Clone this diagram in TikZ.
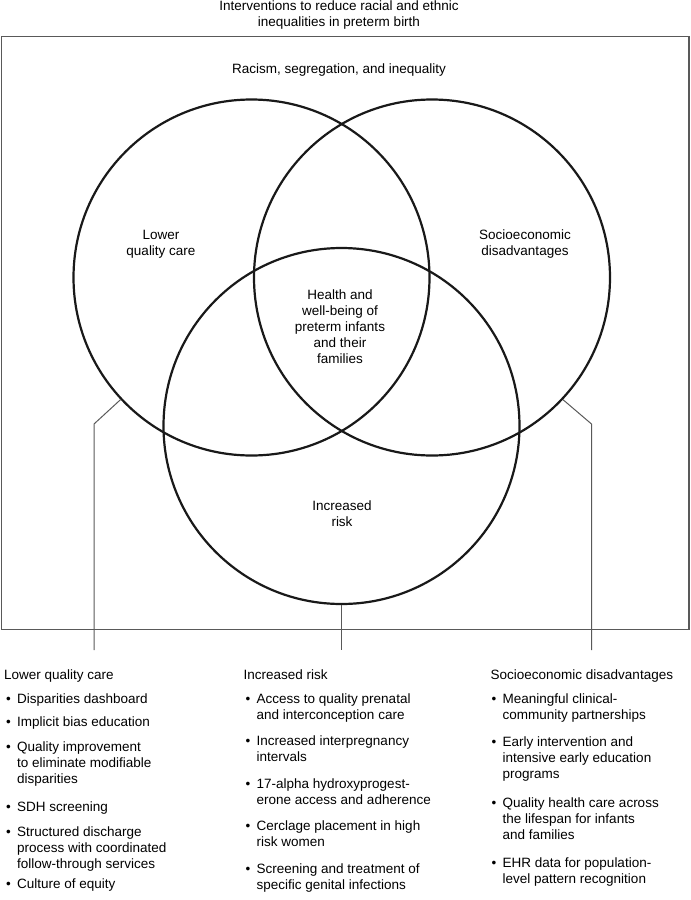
\documentclass[tikz,border=0pt]{standalone}
\usepackage{fontspec}
\setmainfont{Liberation Sans}
\newcommand{\bul}[1]{\makebox[11pt][l]{\textbullet}\parbox[t]{200pt}{#1}}
\begin{document}
\begin{tikzpicture}[x=1pt,y=-1pt,
    every node/.style={font=\fontsize{13.5}{16}\selectfont, inner sep=0pt},
    ring/.style={circle, draw=black!90, line width=2.2pt, minimum size=356pt},
    lbl/.style={align=center},
    head/.style={anchor=base west},
    item/.style={anchor=base west},
    frame/.style={draw=black!65, line width=1.3pt},
    link/.style={black!65, line width=1pt}]
  \useasboundingbox (0,0) rectangle (691,900);
  \node[lbl] (title) at (339,15) {Interventions to reduce racial and ethnic\\inequalities in preterm birth};
  \draw[frame] (1.7,36.3) rectangle (689,629.3);
  \node[lbl] (racism) at (339,70) {Racism, segregation, and inequality};
  % the three circles
  \node[ring] (lq) at (251.5,277.5) {};
  \node[ring] (se) at (432,277.5) {};
  \node[ring] (ir) at (341.5,426) {};
  \node[lbl] (lqtext) at (161,244.5) {Lower\\quality care};
  \node[lbl] (setext) at (525,244.5) {Socioeconomic\\disadvantages};
  \node[lbl] (hw) at (340,327) {Health and\\well-being of\\preterm infants\\and their\\families};
  \node[lbl] (irtext) at (342,513.5) {Increased\\risk};
  % the three lists
  \node[head] (lqhead) at (4,679.5) {Lower quality care};
  \node[item] (lq1) at (6,703.5) {\bul{Disparities dashboard}};
  \node[item] (lq2) at (6,726) {\bul{Implicit bias education}};
  \node[item] (lq3) at (6,751) {\bul{Quality improvement\\to eliminate modifiable\\disparities}};
  \node[item] (lq4) at (6,811) {\bul{SDH screening}};
  \node[item] (lq5) at (6,836) {\bul{Structured discharge\\process with coordinated\\follow-through services}};
  \node[item] (lq6) at (6,888) {\bul{Culture of equity}};
  \node[head] (irhead) at (243.5,679.5) {Increased risk};
  \node[item] (ir1) at (245.5,703.8) {\bul{Access to quality prenatal\\and interconception care}};
  \node[item] (ir2) at (245.5,745.5) {\bul{Increased interpregnancy\\intervals}};
  \node[item] (ir3) at (245.5,788.5) {\bul{17-alpha hydroxyprogest-\\erone access and adherence}};
  \node[item] (ir4) at (245.5,830.5) {\bul{Cerclage placement in high\\risk women}};
  \node[item] (ir5) at (245.5,873.8) {\bul{Screening and treatment of\\specific genital infections}};
  \node[head] (sehead) at (490.5,679.5) {Socioeconomic disadvantages};
  \node[item] (se1) at (491.5,703.8) {\bul{Meaningful clinical-\\community partnerships}};
  \node[item] (se2) at (491.5,746.2) {\bul{Early intervention and\\intensive early education\\programs}};
  \node[item] (se3) at (491.5,807.2) {\bul{Quality health care across\\the lifespan for infants\\and families}};
  \node[item] (se4) at (491.5,867.8) {\bul{EHR data for population-\\level pattern recognition}};
  % connectors
  \coordinate (lqbend) at (94,424);
  \coordinate (lqend) at (94,650);
  \coordinate (sebend) at (591.5,424);
  \coordinate (seend) at (591.5,650);
  \coordinate (irend) at (341.5,650);
  \begin{scope}[link]
    \draw (lq.223) -- (lqbend) -- (lqend);
    \draw (se.317) -- (sebend) -- (seend);
    \draw (ir.south) -- (irend);
  \end{scope}
\end{tikzpicture}
\end{document}
